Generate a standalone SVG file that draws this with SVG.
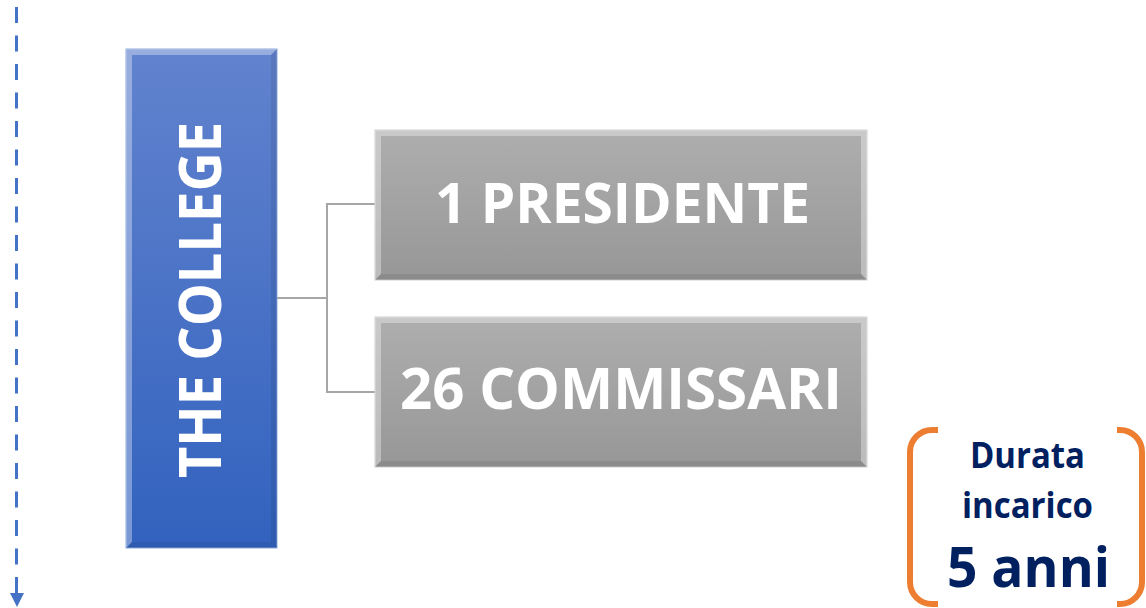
<svg xmlns="http://www.w3.org/2000/svg" width="1146" height="608" viewBox="0 0 1146 608">
<defs>
<linearGradient id="gBlue" x1="0" y1="0" x2="0" y2="1">
<stop offset="0" stop-color="#6283CE"/>
<stop offset="1" stop-color="#3262BE"/>
</linearGradient>
<linearGradient id="gGray" x1="0" y1="0" x2="0" y2="1">
<stop offset="0" stop-color="#AEAEAE"/>
<stop offset="1" stop-color="#979797"/>
</linearGradient>
</defs>
<style>
.lbl{font-family:"Open Sans","Noto Sans","Liberation Sans",sans-serif;font-weight:bold;fill:#FFFFFF}
.dur{font-family:"Open Sans","Noto Sans","Liberation Sans",sans-serif;font-weight:bold;fill:#002060;text-anchor:middle}
.conn{fill:none;stroke:#A6A6A6;stroke-width:2}
.bl{fill:#FFFFFF;opacity:0.35}
.bd{fill:#000000;opacity:0.08}
.br{fill:none;stroke:#ED7D31;stroke-width:6}
</style>
<rect width="1146" height="608" fill="#FFFFFF"/>
<g id="timeline">
<line x1="16.5" y1="7" x2="16.5" y2="594" stroke="#4472C4" stroke-width="3" stroke-dasharray="16 12.5"/>
<polygon points="10,593 24,593 17,607" fill="#4472C4"/>
</g>
<g id="connectors">
<polyline class="conn" points="276,298 327,298"/>
<polyline class="conn" points="375,204 327,204 327,392 375,392"/>
</g>
<g id="college">
<rect x="126" y="49" width="151" height="499" fill="url(#gBlue)" stroke="#8FAADC" stroke-width="1"/>
<polygon class="bl" points="126,49 277,49 271,55 132,55"/>
<polygon class="bl" points="126,49 132,55 132,542 126,548"/>
<polygon class="bd" points="277,49 277,548 271,542 271,55"/>
<polygon class="bd" points="126,548 277,548 271,542 132,542"/>
<text class="lbl" font-size="59" transform="translate(221,478) rotate(-90)" textLength="356" lengthAdjust="spacingAndGlyphs">THE COLLEGE</text>
</g>
<g id="presidente">
<rect x="375" y="130" width="492" height="150" fill="url(#gGray)" stroke="#D0D0D0" stroke-width="1"/>
<polygon class="bl" points="375,130 867,130 861,136 381,136"/>
<polygon class="bl" points="375,130 381,136 381,274 375,280"/>
<polygon class="bl" points="867,130 867,280 861,274 861,136"/>
<polygon class="bd" points="375,280 867,280 861,274 381,274"/>
<text class="lbl" x="435" y="223" font-size="56" textLength="375" lengthAdjust="spacingAndGlyphs">1 PRESIDENTE</text>
</g>
<g id="commissari">
<rect x="375" y="317" width="492" height="150" fill="url(#gGray)" stroke="#D0D0D0" stroke-width="1"/>
<polygon class="bl" points="375,317 867,317 861,323 381,323"/>
<polygon class="bl" points="375,317 381,323 381,461 375,467"/>
<polygon class="bl" points="867,317 867,467 861,461 861,323"/>
<polygon class="bd" points="375,467 867,467 861,461 381,461"/>
<text class="lbl" x="400" y="409" font-size="57" textLength="442" lengthAdjust="spacingAndGlyphs">26 COMMISSARI</text>
</g>
<g id="durata">
<path class="br" d="M938,430 H932 A22,22 0 0 0 910,452 V582 A22,22 0 0 0 932,604 H938"/>
<path class="br" d="M1117,430 H1120 A22,22 0 0 1 1142,452 V582 A22,22 0 0 1 1120,604 H1117"/>
<text class="dur" x="1027.5" y="468" font-size="35" textLength="115" lengthAdjust="spacingAndGlyphs">Durata</text>
<text class="dur" x="1027.5" y="518" font-size="35" textLength="131" lengthAdjust="spacingAndGlyphs">incarico</text>
<text class="dur" x="1028.5" y="587" font-size="55" textLength="163" lengthAdjust="spacingAndGlyphs">5 anni</text>
</g>
</svg>
